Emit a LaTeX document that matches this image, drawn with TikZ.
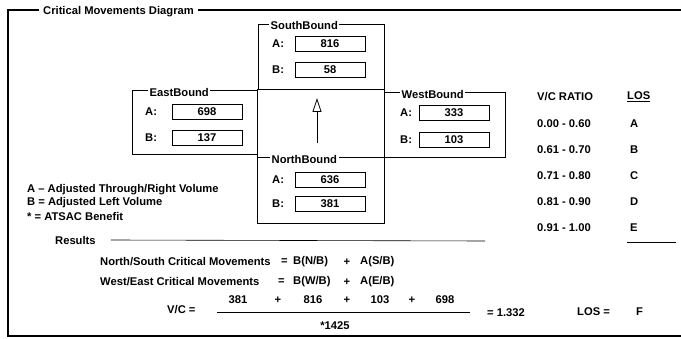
\documentclass[tikz,border=0pt]{standalone}
\usepackage{fontspec}
\setmainfont{Liberation Sans}
\usetikzlibrary{arrows.meta,positioning,calc}

\begin{document}
\begin{tikzpicture}[x=1pt, y=-1pt, font=\fontsize{11.2}{13}\selectfont\bfseries,
  >={Triangle[open, length=14pt, width=9pt]},
  txt/.style={inner sep=0pt, anchor=west},
  boxtitle/.style={fill=white, inner sep=1.5pt, anchor=west},
  dirbox/.style={draw, line width=1.3pt, anchor=north west, inner sep=0pt},
  fieldbox/.style={draw, line width=0.6pt, minimum width=70pt, minimum height=15pt, inner sep=0pt}]
  \useasboundingbox (0,0) rectangle (681,339);
  \draw[line width=1.8pt] (681,10) -- (8,10) -- (8,336) -- (681,336);
  \node[boxtitle, inner xsep=4pt] (cmtitle) at (39,12) {Critical Movements Diagram};

  % the four approaches round the centre box
  \node[dirbox, minimum width=126pt, minimum height=65pt] (sb) at (258,24) {};
  \node[dirbox, minimum width=127pt, minimum height=68pt] (ctr) at (257,89) {};
  \node[dirbox, minimum width=125pt, minimum height=64pt] (eb) at (132,90) {};
  \node[dirbox, minimum width=121pt, minimum height=65pt] (wb) at (384,92) {};
  \node[dirbox, minimum width=127pt, minimum height=66pt] (nb) at (257,157) {};
  \node[boxtitle, right=11pt of sb.north west, yshift=-2pt] (sbtitle) {SouthBound};
  \node[boxtitle, right=16pt of eb.north west, yshift=-2pt] (ebtitle) {EastBound};
  \node[boxtitle, right=16pt of wb.north west, yshift=-2pt] (wbtitle) {WestBound};
  \node[boxtitle, right=13pt of nb.north west, yshift=-2pt] (nbtitle) {NorthBound};
  \foreach \n/\lx/\fx/\ay/\by/\va/\vb in {sb/272/330/44/70/816/58, eb/145/207/112/138/698/137,
      wb/400/454/113/140/333/103, nb/272/330/180/204/636/381} {
    \node[txt] (\n-la) at (\lx,\ay) {A:};
    \node[fieldbox] (\n-fa) at (\fx,\ay) {\va};
    \node[txt] (\n-lb) at (\lx,\by) {B:};
    \node[fieldbox] (\n-fb) at (\fx,\by) {\vb};
  }
  \coordinate (arrtail) at (317,143);
  \coordinate (arrtip) at (317,98);
  \draw[->, line width=0.8pt] (arrtail) -- (arrtip);

  % legend
  \node[txt] (lega) at (27,190) {A -- Adjusted Through/Right Volume};
  \node[txt] (legb) at (27,203) {B = Adjusted Left Volume};
  \node[txt] (legs) at (27,216) {* = ATSAC Benefit};

  % level of service table
  \node[txt] (vchead) at (537,97) {V/C RATIO};
  \node[txt] (loshead) at (627,97) {\underline{LOS}};
  \foreach \i/\r/\l in {0/0.00 - 0.60/A, 1/0.61 - 0.70/B, 2/0.71 - 0.80/C, 3/0.81 - 0.90/D, 4/0.91 - 1.00/E}
    \node[txt] (rat\i) at (537,124+26*\i) {\r} node[txt] (los\i) at (630,124+26*\i) {\l};
  \coordinate (eline) at (676,242);
  \draw[line width=0.6pt] (eline) -- ++(-49,0);

  % results
  \node[txt] (res) at (55,240) {Results};
  \coordinate (resend) at (485,241);
  \draw[line width=0.6pt] ([xshift=15pt]res.east) -- (resend);
  \node[txt] (ns) at (100,262) {North/South Critical Movements};
  \node[txt] (nseq) at (281,262) {=};
  \node[txt] (nsb) at (293,262) {B(N/B)};
  \node (nsp) at (347,262) {+};
  \node[txt] (nsa) at (360,262) {A(S/B)};
  \node[txt] (we) at (100,282) {West/East Critical Movements};
  \node[txt] (weeq) at (278,282) {=};
  \node[txt] (web) at (293,282) {B(W/B)};
  \node (wep) at (347,282) {+};
  \node[txt] (wea) at (360,282) {A(E/B)};

  \node[txt] (vc) at (167,310) {V/C =};
  \foreach \x/\t [count=\k] in {238/381, 278/+, 313/816, 347/+, 380/103, 412/+, 445/698}
    \node (num\k) at (\x,300) {\t};
  \coordinate (fracl) at (217,313);
  \coordinate (fracr) at (470,313);
  \draw[line width=1pt] (fracl) -- (fracr);
  \node (den) at (335,326) {*1425};
  \node[txt] (vcres) at (487,313) {= 1.332};
  \node[txt] (los) at (577,312) {LOS =};
  \node[txt] (losval) at (636,312) {F};
\end{tikzpicture}
\end{document}
